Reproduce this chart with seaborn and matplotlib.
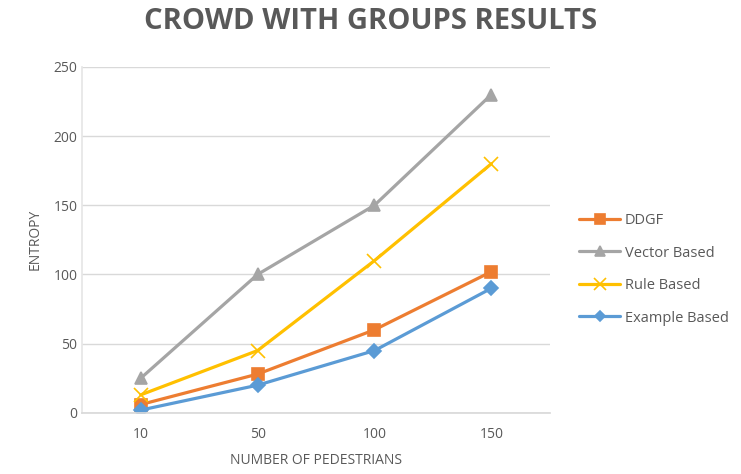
import pandas as pd
import matplotlib.pyplot as plt
import seaborn as sns

# values
pedestrians = ["10", "50", "100", "150"]
series_names = ["DDGF", "Vector Based", "Rule Based", "Example Based"]
ddgf = [6, 28, 60, 102]
vector_based = [25, 100, 150, 230]
rule_based = [13, 45, 110, 180]
example_based = [2, 20, 45, 90]

colors = ["#ED7D31", "#A5A5A5", "#FFC000", "#5B9BD5"]
markers = ["s", "^", "x", "D"]
marker_sizes = [9, 9, 10, 7]
text_gray = "#595959"


def build_frame():
    rows = []
    for name, vals in zip(series_names, [ddgf, vector_based, rule_based, example_based]):
        for p, v in zip(pedestrians, vals):
            rows.append({"pedestrians": p, "entropy": v, "series": name})
    return pd.DataFrame(rows)


def main():
    sns.set_theme(style="whitegrid")
    plt.rcParams["font.family"] = ["Open Sans", "DejaVu Sans"]
    df = build_frame()

    fig = plt.figure(figsize=(7.41, 4.74), dpi=100)
    ax = fig.add_axes([0.111, 0.129, 0.631, 0.73])

    for name, color, m, ms in zip(series_names, colors, markers, marker_sizes):
        sub = df[df["series"] == name]
        sns.lineplot(data=sub, x="pedestrians", y="entropy", ax=ax, color=color,
                     marker=m, markersize=ms, markeredgecolor=color,
                     markeredgewidth=1.2, linewidth=2.3, label=name,
                     sort=False)

    ax.set_xlim(-0.5, len(pedestrians) - 0.5)
    ax.set_ylim(0, 250)
    ax.set_yticks(range(0, 251, 50))
    ax.grid(axis="y", color="#D9D9D9", linewidth=1)
    ax.grid(axis="x", visible=False)
    for side in ["top", "right"]:
        ax.spines[side].set_visible(False)
    ax.spines["left"].set_color("#E6E6E6")
    ax.spines["bottom"].set_color("#D9D9D9")
    ax.tick_params(axis="both", colors=text_gray, labelsize=10, length=0)
    ax.tick_params(axis="x", pad=10)
    ax.set_xlabel("NUMBER OF PEDESTRIANS", color=text_gray, fontsize=10, labelpad=8)
    ax.set_ylabel("ENTROPY", color=text_gray, fontsize=10, labelpad=8)

    fig.suptitle("CROWD WITH GROUPS RESULTS", x=0.5, y=0.985, fontsize=21,
                 fontweight="bold", color=text_gray)

    ax.legend(loc="center left", bbox_to_anchor=(1.035, 0.415), frameon=False,
              fontsize=10.5, labelspacing=1.2, handlelength=2.8,
              handletextpad=0.3, markerscale=0.8, labelcolor=text_gray)

    fig.savefig("out.png", dpi=100)


if __name__ == "__main__":
    main()
